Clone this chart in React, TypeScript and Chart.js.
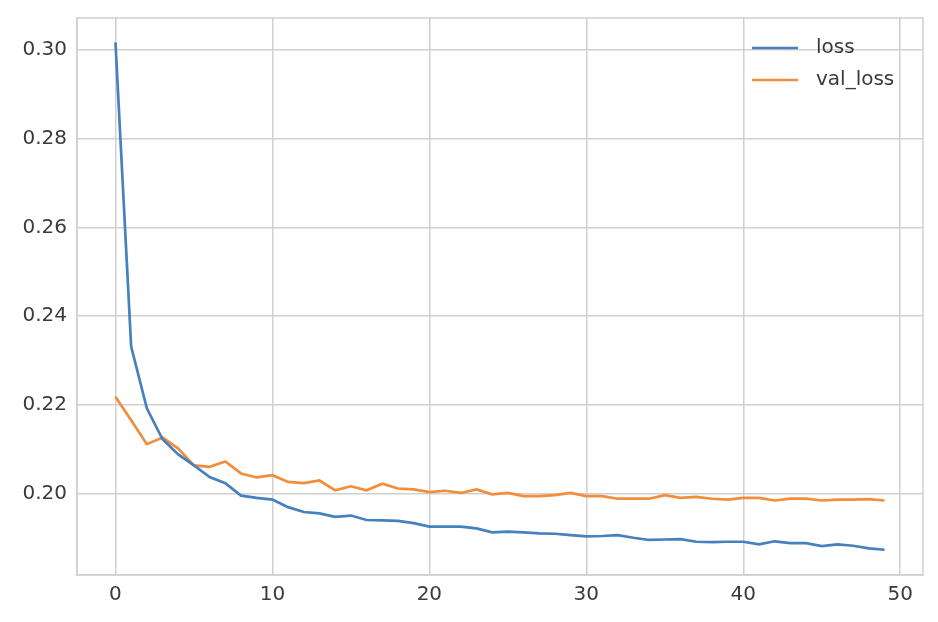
import React, { useEffect, useRef } from "react";
import { Chart, registerables } from "chart.js";

Chart.register(...registerables);

const seriesNames = ["loss", "val_loss"];
const loss = [
  0.3017, 0.2331, 0.2192, 0.2122, 0.2088, 0.2063, 0.2037, 0.2023, 0.1995, 0.199,
  0.1986, 0.1969, 0.1958, 0.1955, 0.1947, 0.195, 0.194, 0.1939, 0.1938, 0.1933,
  0.1925, 0.1925, 0.1925, 0.1921, 0.1912, 0.1914, 0.1912, 0.191, 0.1909, 0.1906,
  0.1903, 0.1904, 0.1906, 0.19, 0.1895, 0.1896, 0.1897, 0.1891, 0.189, 0.1891,
  0.1891, 0.1885, 0.1892, 0.1888, 0.1888, 0.1881, 0.1885, 0.1882, 0.1876, 0.1873,
];
const valLoss = [
  0.2218, 0.2165, 0.2111, 0.2126, 0.2101, 0.2063, 0.206, 0.2072, 0.2045, 0.2036,
  0.2041, 0.2026, 0.2023, 0.2029, 0.2007, 0.2016, 0.2007, 0.2022, 0.2011, 0.2009,
  0.2003, 0.2006, 0.2001, 0.2009, 0.1998, 0.2001, 0.1994, 0.1994, 0.1996, 0.2001,
  0.1994, 0.1994, 0.1988, 0.1988, 0.1988, 0.1996, 0.199, 0.1992, 0.1988, 0.1986,
  0.199, 0.199, 0.1984, 0.1988, 0.1988, 0.1984, 0.1986, 0.1986, 0.1987, 0.1984,
];
const xTicks = [0, 10, 20, 30, 40, 50];
const yTicks = [0.2, 0.22, 0.24, 0.26, 0.28, 0.3];

const COLORS = ["#4680bd", "#f28d3a"];
const GRID = "#d0d0d0";
const TEXT = "#3a3a3a";
const FONT = "'DejaVu Sans', sans-serif";

const frameAndLegend = {
  id: "frameAndLegend",
  afterDraw(chart: any) {
    const { ctx, chartArea } = chart;
    ctx.save();
    ctx.strokeStyle = GRID;
    ctx.lineWidth = 1.5;
    ctx.strokeRect(chartArea.left, chartArea.top, chartArea.right - chartArea.left, chartArea.bottom - chartArea.top);
    const lineLen = 46;
    const startX = chartArea.right - 171;
    const firstY = chartArea.top + 30;
    const rowH = 32;
    ctx.font = `20px ${FONT}`;
    ctx.textBaseline = "middle";
    chart.data.datasets.forEach((ds: any, i: number) => {
      const y = firstY + i * rowH;
      ctx.strokeStyle = ds.borderColor;
      ctx.lineWidth = 2.7;
      ctx.beginPath();
      ctx.moveTo(startX, y);
      ctx.lineTo(startX + lineLen, y);
      ctx.stroke();
      ctx.fillStyle = TEXT;
      ctx.fillText(ds.label, startX + lineLen + 18, y);
    });
    ctx.restore();
  },
};

export default function App() {
  const ref = useRef<HTMLCanvasElement | null>(null);
  useEffect(() => {
    document.body.style.margin = "0";
    const canvas = ref.current;
    if (!canvas) return;
    const chart = new Chart(canvas, {
      type: "line",
      data: {
        datasets: [loss, valLoss].map((arr, si) => ({
          label: seriesNames[si],
          data: arr.map((v, i) => ({ x: i, y: v })),
          borderColor: COLORS[si],
          backgroundColor: COLORS[si],
          borderWidth: 2.7,
          pointRadius: 0,
          tension: 0,
          fill: false,
        })),
      },
      options: {
        animation: false,
        responsive: false,
        maintainAspectRatio: false,
        layout: { padding: { left: 0, right: 15, top: 18, bottom: 0 } },
        plugins: { legend: { display: false }, tooltip: { enabled: false } },
        scales: {
          x: {
            type: "linear",
            min: -2.45,
            max: 51.45,
            afterBuildTicks: (axis: any) => {
              axis.ticks = xTicks.map((v) => ({ value: v }));
            },
            afterFit: (axis: any) => {
              axis.height = 47;
              axis.paddingLeft = 0;
              axis.paddingRight = 0;
            },
            grid: { color: GRID, lineWidth: 1.5, drawTicks: false },
            border: { display: true, color: GRID, width: 1.5 },
            ticks: {
              padding: 8,
              color: TEXT,
              font: { family: FONT, size: 20 },
              maxRotation: 0,
              callback: (v: any) => String(v),
            },
          },
          y: {
            type: "linear",
            min: 0.1816,
            max: 0.3072,
            afterBuildTicks: (axis: any) => {
              axis.ticks = yTicks.map((v) => ({ value: v }));
            },
            afterFit: (axis: any) => {
              axis.width = 77;
              axis.paddingTop = 0;
              axis.paddingBottom = 0;
            },
            grid: { color: GRID, lineWidth: 1.5, drawTicks: false },
            border: { display: true, color: GRID, width: 1.5 },
            ticks: {
              padding: 10,
              color: TEXT,
              font: { family: FONT, size: 20 },
              callback: (v: any) => Number(v).toFixed(2),
            },
          },
        },
      },
      plugins: [frameAndLegend],
    });
    return () => chart.destroy();
  }, []);
  return (
    <div style={{ width: 938, height: 622, background: "#fff" }}>
      <canvas ref={ref} width={938} height={622} style={{ display: "block" }} />
    </div>
  );
}
